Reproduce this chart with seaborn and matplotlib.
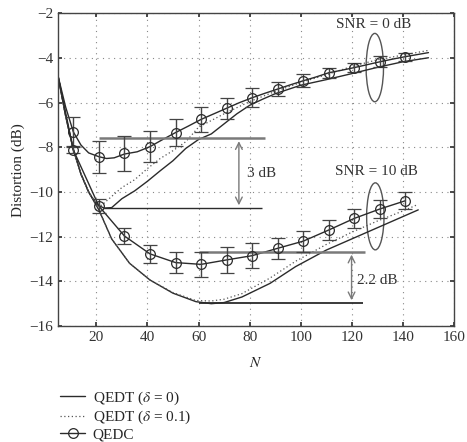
import numpy as np
import pandas as pd
import seaborn as sns
import matplotlib.pyplot as plt
from matplotlib.lines import Line2D
from matplotlib.patches import Ellipse

sns.set_theme(style="ticks")
plt.rcParams['font.family'] = ['Liberation Serif', 'DejaVu Serif']
plt.rcParams['mathtext.fontset'] = 'stix'

# QEDT (delta = 0) curves
n_t0_0 = [5, 8, 11, 14, 17, 20, 23, 26, 30, 35, 40, 45, 50, 55, 60, 65, 70, 75, 80, 85, 90, 100, 110, 120, 130, 140, 150]
d_t0_0 = [-4.8, -6.6, -8.1, -9.2, -10.0, -10.55, -10.72, -10.7, -10.3, -9.95, -9.52, -9.05, -8.6, -8.05, -7.65, -7.4, -6.95,
          -6.5, -6.12, -5.85, -5.6, -5.22, -4.97, -4.7, -4.42, -4.17, -3.99]
n_t0_10 = [5, 8, 11, 14, 17, 21, 26, 33, 41, 50, 59, 65, 70, 77, 88, 98, 110, 120, 130, 140, 146]
d_t0_10 = [-4.8, -6.6, -8.1, -9.2, -10.0, -10.8, -12.1, -13.19, -13.94, -14.53, -14.91, -15.0, -14.95, -14.7, -14.09,
           -13.34, -12.6, -12.1, -11.6, -11.1, -10.8]

# QEDT (delta = 0.1) curves
n_t1_0 = [5, 8, 11, 14, 17, 20, 22, 25, 30, 35, 40, 45, 50, 55, 60, 70, 80, 90, 100, 110, 120, 130, 140, 150]
d_t1_0 = [-4.8, -6.6, -8.1, -9.2, -10.0, -10.5, -10.6, -10.3, -9.8, -9.45, -8.95, -8.5, -8.15, -7.75, -7.1, -6.5,
          -5.95, -5.5, -5.1, -4.75, -4.38, -4.08, -3.87, -3.66]
n_t1_10 = [5, 8, 11, 14, 17, 21, 26, 33, 41, 50, 59, 65, 70, 77, 88, 98, 110, 120, 130, 140, 146]
d_t1_10 = [-4.8, -6.6, -8.1, -9.2, -10.0, -10.8, -12.1, -13.19, -13.94, -14.5, -14.86, -14.88, -14.8, -14.55, -13.85,
           -13.1, -12.35, -11.8, -11.3, -10.85, -10.55]

# QEDC lines
n_c_0 = [5, 8, 11, 14, 17, 21, 24, 27, 31, 36, 41, 46, 51, 56, 61, 66, 71, 76, 81, 86, 91, 96, 101, 106, 111, 116,
         121, 126, 131, 136, 141, 146, 150]
d_c_0 = [-4.8, -6.2, -7.31, -7.9, -8.25, -8.42, -8.5, -8.47, -8.3, -8.2, -7.97, -7.65, -7.34, -7.05, -6.75, -6.5, -6.25,
         -6.0, -5.78, -5.58, -5.39, -5.2, -5.02, -4.85, -4.66, -4.55, -4.43, -4.3, -4.17, -4.05, -3.94, -3.84, -3.76]

# QEDC markers with error bars
n_mark = [11, 21, 31, 41, 51, 61, 71, 81, 91, 101, 111, 121, 131, 141]
y_mark_0 = [-7.31, -8.42, -8.27, -7.97, -7.34, -6.75, -6.25, -5.78, -5.39, -5.02, -4.66, -4.43, -4.17, -3.94]
e_mark_0 = [0.65, 0.72, 0.77, 0.70, 0.60, 0.55, 0.48, 0.43, 0.33, 0.30, 0.23, 0.22, 0.24, 0.18]
y_mark_10 = [-8.12, -10.63, -11.97, -12.77, -13.16, -13.24, -13.04, -12.85, -12.52, -12.20, -11.70, -11.18, -10.76, -10.39]
e_mark_10 = [0.15, 0.30, 0.37, 0.40, 0.47, 0.55, 0.58, 0.56, 0.47, 0.47, 0.43, 0.44, 0.39, 0.37]

n_c_10 = [5] + n_mark
d_c_10 = [-4.8] + y_mark_10

col = '#2b2b2b'
gray = '#7a7a7a'

fig = plt.figure(figsize=(4.67, 4.42), dpi=100)
ax = fig.add_axes([0.1242, 0.2624, 0.848, 0.7075])

for n, d in [(n_t0_0, d_t0_0), (n_t0_10, d_t0_10)]:
    sns.lineplot(data=pd.DataFrame({'N': n, 'D': d}), x='N', y='D', ax=ax, estimator=None, sort=False,
                 color=col, lw=1.0)
for n, d in [(n_t1_0, d_t1_0), (n_t1_10, d_t1_10)]:
    sns.lineplot(data=pd.DataFrame({'N': n, 'D': d}), x='N', y='D', ax=ax, estimator=None, sort=False,
                 color='#555555', lw=0.9, linestyle=(0, (1, 2)))
for n, d in [(n_c_0, d_c_0), (n_c_10, d_c_10)]:
    sns.lineplot(data=pd.DataFrame({'N': n, 'D': d}), x='N', y='D', ax=ax, estimator=None, sort=False,
                 color=col, lw=1.0)

for y, e in [(y_mark_0, e_mark_0), (y_mark_10, e_mark_10)]:
    ax.errorbar(n_mark, y, yerr=e, fmt='o', mfc='none', mec=col, ms=7, mew=0.9,
                ecolor='#444444', elinewidth=1.0, capsize=5, capthick=1.0, zorder=4)

# annotations: 3 dB
ax.hlines(-7.6, 21, 86, color=gray, lw=1.8)
ax.hlines(-10.72, 23, 84.7, color=col, lw=1.0)
ax.annotate('', xy=(75.8, -10.72), xytext=(75.8, -7.6),
            arrowprops=dict(arrowstyle='<->', color=gray, lw=1.0))
ax.text(79, -9.16, '3 dB', fontsize=11, va='center', ha='left', color='#333333')

# annotations: 2.2 dB
ax.hlines(-12.68, 60, 125, color=gray, lw=1.8)
ax.hlines(-14.97, 60, 124.4, color=col, lw=1.3)
ax.annotate('', xy=(119.9, -14.97), xytext=(119.9, -12.68),
            arrowprops=dict(arrowstyle='<->', color=gray, lw=1.0))
ax.text(122.2, -13.94, '2.2 dB', fontsize=11, va='center', ha='left', color='#333333')

# SNR ellipses and labels
ax.add_patch(Ellipse((129, -4.43), 6.8, 3.06, fill=False, ec='#555555', lw=1.0))
ax.add_patch(Ellipse((129.2, -11.09), 6.8, 3.0, fill=False, ec='#555555', lw=1.0))
ax.text(128.6, -2.52, 'SNR = 0 dB', fontsize=11, ha='center', va='center', color='#333333')
ax.text(129.8, -9.09, 'SNR = 10 dB', fontsize=11, ha='center', va='center', color='#333333')

ax.set_xlim(5, 160)
ax.set_ylim(-16, -2)
ax.set_xticks(range(20, 161, 20))
ax.set_yticks(range(-16, -1, 2))
ax.grid(True, color='#888888', linestyle=(0, (1, 4)), lw=0.8)
ax.tick_params(direction='in', top=True, right=True, labelsize=11, colors='#333333', length=3)
for s in ax.spines.values():
    s.set_color('#444444')
    s.set_linewidth(1.0)
ax.set_xlabel('$N$', fontsize=11, labelpad=9)
ax.set_ylabel('Distortion (dB)', fontsize=11, labelpad=3)

handles = [Line2D([], [], color=col, lw=1.0),
           Line2D([], [], color='#555555', lw=0.9, linestyle=(0, (1, 2))),
           Line2D([], [], color=col, lw=1.0, marker='o', mfc='none', ms=7, mew=0.9)]
labels = ['QEDT ($\\delta$ = 0)', 'QEDT ($\\delta$ = 0.1)', 'QEDC']
fig.legend(handles, labels, loc='upper left', bbox_to_anchor=(0.112, 0.136), frameon=False,
           fontsize=11, handlelength=1.65, handletextpad=0.5, labelspacing=0.12, borderpad=0)

fig.savefig('out.png', dpi=100)
